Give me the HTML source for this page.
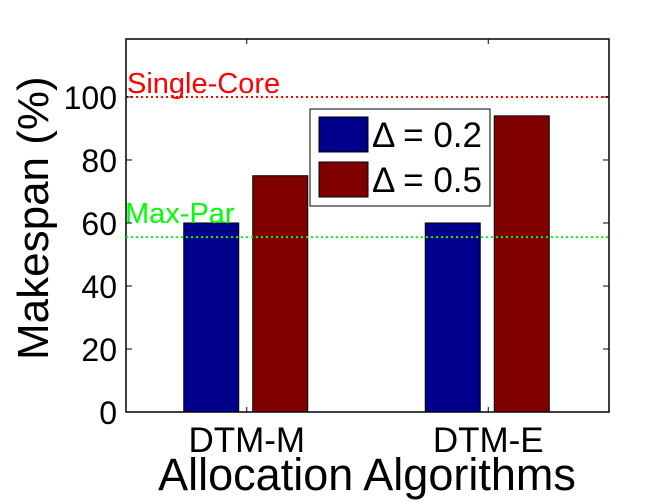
<!DOCTYPE html>
<html><head><meta charset="utf-8"><style>body{margin:0;background:#fff}svg{display:block;font-family:"Liberation Sans",sans-serif}</style></head>
<body>
<svg id="c" width="672" height="504"></svg>
<script>
const categories=["DTM-M","DTM-E"];
const seriesNames=["\u0394 = 0.2","\u0394 = 0.5"];
const series02=[60,60];
const series05=[75,94];
const yTicks=[0,20,40,60,80,100];
const refSingle=100, refMaxPar=55.5;
const colors=["#00008b","#800000"];
const L=126,R=609,T=39,B=412,yMax=118.4;
const NS="http://www.w3.org/2000/svg",svg=document.getElementById("c");
const y=v=>B-v/yMax*(B-T);
const x=i=>L+(i+0.5)/categories.length*(R-L);
function mk(t,a,txt){const e=document.createElementNS(NS,t);for(const k in a)e.setAttribute(k,a[k]);if(txt!==undefined)e.textContent=txt;svg.appendChild(e);return e;}
let e;
e=mk("rect",{x:L,y:T,width:R-L,height:B-T,fill:"#fff",stroke:"#000","stroke-width":1.5});


[series02,series05].forEach((s,si)=>{s.forEach((v,i)=>{
 const cx=x(i),bx=si===0?cx-63:cx+6;
 e=mk("rect",{x:bx,y:y(v),width:55,height:B-y(v),fill:colors[si],stroke:"#000","stroke-width":1});
 
 
});});
e=mk("line",{x1:L,x2:R,y1:y(refSingle),y2:y(refSingle),stroke:"#f00","stroke-width":2,"stroke-dasharray":"2 3"});


e=mk("line",{x1:L,x2:R,y1:y(refMaxPar),y2:y(refMaxPar),stroke:"#0f0","stroke-width":2,"stroke-dasharray":"2 3"});


e=mk("text",{x:127,y:y(refSingle)-4,fill:"#f00","font-size":29},"Single-Core");


e=mk("text",{x:125,y:y(refMaxPar)-14,fill:"#0f0","font-size":29},"Max-Par");


yTicks.forEach(t=>{
 mk("line",{x1:L,x2:L+6,y1:y(t),y2:y(t),stroke:"#000"});
 mk("line",{x1:R,x2:R-6,y1:y(t),y2:y(t),stroke:"#000"});
 e=mk("text",{x:L-9,y:y(t)+12,"text-anchor":"end","font-size":32},t);
 
 
});
categories.forEach((c,i)=>{
 mk("line",{x1:x(i),x2:x(i),y1:B,y2:B-5,stroke:"#000"});
 mk("line",{x1:x(i),x2:x(i),y1:T,y2:T+5,stroke:"#000"});
 e=mk("text",{x:x(i),y:452,"text-anchor":"middle","font-size":35},c);
 
 
});
e=mk("text",{x:367,y:490,"text-anchor":"middle","font-size":45},"Allocation Algorithms");


e=mk("text",{x:0,y:0,"text-anchor":"start","font-size":44,transform:"translate(48,360) rotate(-90)"},"Makespan (%)");


e=mk("rect",{x:310,y:109,width:180,height:97,fill:"#fff",stroke:"#000","stroke-width":1});


seriesNames.forEach((n,i)=>{
 e=mk("rect",{x:319,y:117+i*45,width:49,height:35,fill:colors[i],stroke:"#000"});
 
 
 e=mk("text",{x:372,y:147+i*45,"font-size":35},n);
 
 
});
</script>
</body></html>
